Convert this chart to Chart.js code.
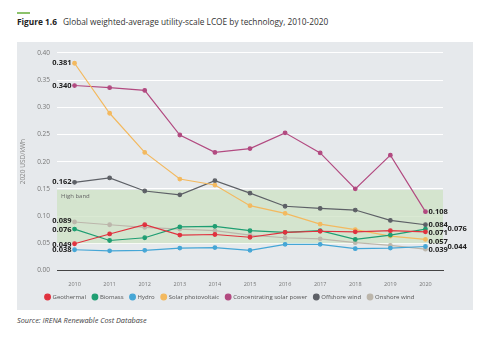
<!DOCTYPE html>
<html>
<head>
<meta charset="utf-8">
<script src="https://cdn.jsdelivr.net/npm/chart.js@4.4.0/dist/chart.umd.min.js"></script>
<style>
  body { margin: 0; width: 500px; height: 353px; background: #fff; font-family: "Open Sans", sans-serif; position: relative; overflow: hidden; }
  #marca { position: absolute; left: 17px; top: 12px; width: 13px; height: 2px; background: #8cc26b; }
  #titulo { position: absolute; left: 17px; top: 16px; font-size: 8.3px; color: #333; white-space: nowrap; }
  #titulo b { font-weight: 700; color: #222; margin-right: 4px; }
  #panel { position: absolute; left: 17px; top: 42px; width: 456px; height: 268px; background: #e6e9ec; }
  #fuente { position: absolute; left: 17px; top: 315px; font-size: 7.3px; font-style: italic; color: #444; }
</style>
</head>
<body>
<div id="marca"></div>
<div id="titulo"><b>Figure 1.6</b> Global weighted-average utility-scale LCOE by technology, 2010-2020</div>
<div id="panel"><canvas id="myChart" width="456" height="268"></canvas></div>
<div id="fuente">Source: IRENA Renewable Cost Database</div>
<script>
const ctx = document.getElementById("myChart");

//***************** DATOS *****************/
const anios = ["2010", "2011", "2012", "2013", "2014", "2015", "2016", "2017", "2018", "2019", "2020"];
const geotermica = [0.049, 0.067, 0.084, 0.065, 0.066, 0.061, 0.070, 0.072, 0.071, 0.073, 0.071];
const biomasa = [0.076, 0.055, 0.060, 0.080, 0.081, 0.073, 0.070, 0.073, 0.057, 0.065, 0.076];
const hidro = [0.038, 0.036, 0.037, 0.041, 0.042, 0.037, 0.048, 0.048, 0.040, 0.041, 0.044];
const solarFV = [0.381, 0.289, 0.217, 0.168, 0.157, 0.119, 0.105, 0.085, 0.075, 0.063, 0.057];
const solarConc = [0.340, 0.336, 0.331, 0.249, 0.217, 0.224, 0.253, 0.216, 0.150, 0.212, 0.108];
const eolicaMarina = [0.162, 0.170, 0.146, 0.139, 0.165, 0.142, 0.118, 0.114, 0.111, 0.092, 0.084];
const eolicaTerrestre = [0.089, 0.084, 0.079, 0.076, 0.073, 0.065, 0.060, 0.058, 0.051, 0.046, 0.039];
const ticksY = [0.00, 0.05, 0.10, 0.15, 0.20, 0.25, 0.30, 0.35, 0.40];
const bandaAlta = [0.05, 0.148];

// etiquetas de valores: [texto, serie, desplazamiento x, desplazamiento y]
const etiquetasIzq = [
  ["0.381", solarFV, 0, 0], ["0.340", solarConc, 0, 0], ["0.162", eolicaMarina, 0, 0],
  ["0.089", eolicaTerrestre, 0, -1], ["0.076", biomasa, 0, 1], ["0.049", geotermica, 0, 1], ["0.038", hidro, 0, 0]
];
const etiquetasDer = [
  ["0.108", solarConc, 3, 0], ["0.084", eolicaMarina, 3, 0], ["0.071", geotermica, 3, 1],
  ["0.057", solarFV, 3, 2], ["0.039", eolicaTerrestre, 3, 1], ["0.076", biomasa, 22, 0], ["0.044", hidro, 22, 0]
];

const serie = (label, data, color) => ({
  label: label,
  data: data,
  borderColor: color,
  backgroundColor: color,
  borderWidth: 1.2,
  pointRadius: 1.8,
  pointHoverRadius: 1.8,
  tension: 0,
});

//***************** PLUGINS *****************/
const banda = {
  id: "banda",
  beforeDatasetsDraw(chart) {
    const { ctx, chartArea, scales } = chart;
    const yTop = scales.y.getPixelForValue(bandaAlta[1]);
    const yBot = scales.y.getPixelForValue(bandaAlta[0]);
    ctx.save();
    ctx.fillStyle = "rgba(205,226,196,0.75)";
    ctx.fillRect(chartArea.left, yTop, chartArea.right - chartArea.left, yBot - yTop);
    ctx.fillStyle = "#666";
    ctx.font = "6px 'Open Sans'";
    ctx.textBaseline = "top";
    ctx.fillText("High band", chartArea.left + 4, yTop + 3);
    ctx.restore();
  },
};

const etiquetas = {
  id: "etiquetas",
  afterDatasetsDraw(chart) {
    const { ctx, scales } = chart;
    ctx.save();
    ctx.font = "bold 7.5px 'Open Sans'";
    ctx.fillStyle = "#222";
    ctx.textBaseline = "middle";
    ctx.textAlign = "right";
    const x0 = scales.x.getPixelForValue(0);
    etiquetasIzq.forEach(([txt, datos, dx, dy]) => {
      ctx.fillText(txt, x0 - 3 - dx, scales.y.getPixelForValue(datos[0]) + dy);
    });
    ctx.textAlign = "left";
    const x1 = scales.x.getPixelForValue(anios.length - 1);
    etiquetasDer.forEach(([txt, datos, dx, dy]) => {
      ctx.fillText(txt, x1 + dx, scales.y.getPixelForValue(datos[datos.length - 1]) + dy);
    });
    ctx.restore();
  },
};

// fija la altura y la posicion de la leyenda
const alturaLeyenda = {
  id: "alturaLeyenda",
  afterInit(chart) {
    const leyenda = chart.legend;
    if (!leyenda) return;
    const fitOriginal = leyenda.fit.bind(leyenda);
    leyenda.fit = function () {
      fitOriginal();
      this.height = 14;
    };
  },
  afterLayout(chart) {
    const leyenda = chart.legend;
    if (!leyenda) return;
    leyenda.top = 245;
    leyenda.bottom = 245 + leyenda.height;
  },
};

//***************** GRAFICO *****************/
Chart.defaults.font.family = "'Open Sans', sans-serif";
Chart.defaults.color = "#666";

new Chart(ctx, {
  type: "line",
  data: {
    labels: anios,
    datasets: [
      serie("Geothermal", geotermica, "#e0323f"),
      serie("Biomass", biomasa, "#1f9e72"),
      serie("Hydro", hidro, "#45a6d6"),
      serie("Solar photovoltaic", solarFV, "#f3b95f"),
      serie("Concentrating solar power", solarConc, "#b24a80"),
      serie("Offshore wind", eolicaMarina, "#5d6066"),
      serie("Onshore wind", eolicaTerrestre, "#bcb6ab"),
    ],
  },
  options: {
    responsive: false,
    animation: false,
    layout: { padding: { top: 6, right: 30, bottom: 0, left: 0 } },
    plugins: {
      tooltip: { enabled: false },
      legend: {
        position: "bottom",
        labels: {
          usePointStyle: true,
          pointStyle: "circle",
          boxWidth: 4,
          boxHeight: 4,
          padding: 7,
          font: { size: 6 },
          color: "#555",
        },
      },
    },
    scales: {
      x: {
        offset: true,
        grid: { display: false, drawTicks: true, tickLength: 3, color: "#444" },
        border: { display: true, color: "#444", width: 1 },
        ticks: { font: { size: 5.5 }, color: "#777", padding: 8 },
      },
      y: {
        min: 0,
        max: 0.4,
        afterBuildTicks: (escala) => {
          escala.ticks = ticksY.map((v) => ({ value: v }));
        },
        afterFit: (escala) => {
          escala.width = 40;
        },
        grid: { color: "#ffffff", lineWidth: 1, drawTicks: false },
        border: { display: false },
        ticks: {
          font: { size: 6.5 },
          color: "#777",
          padding: 7,
          callback: (v) => v.toFixed(2),
        },
        title: { display: true, text: "2020 USD/kWh", font: { size: 6.5 }, color: "#888", padding: 2 },
      },
    },
  },
  plugins: [banda, etiquetas, alturaLeyenda],
});
</script>
</body>
</html>
